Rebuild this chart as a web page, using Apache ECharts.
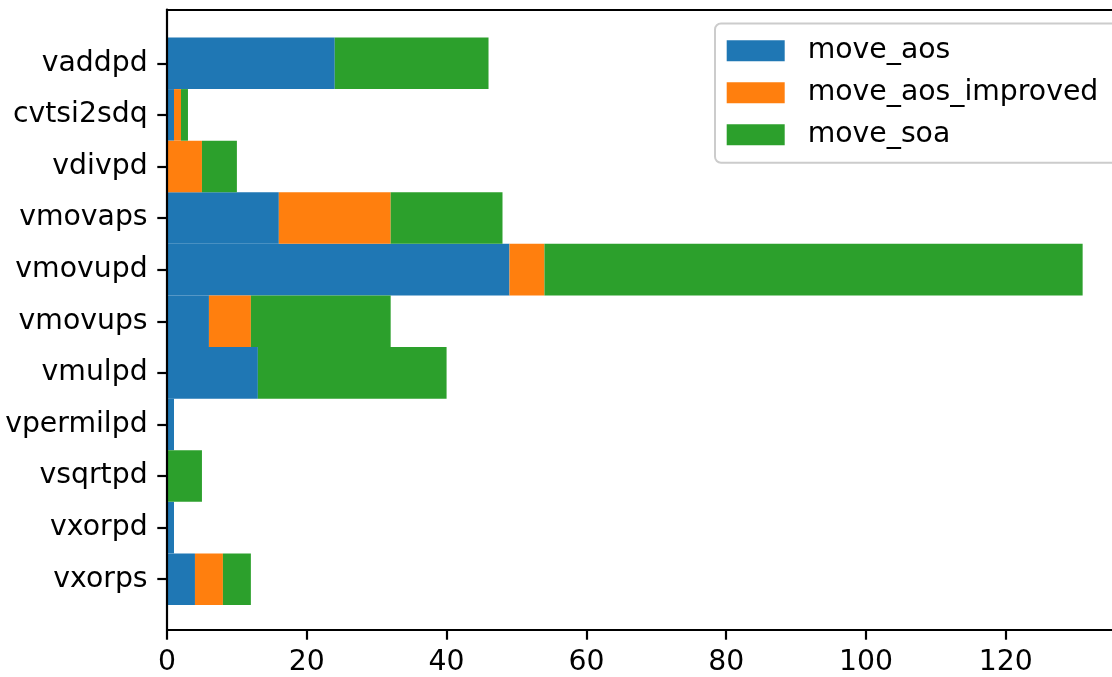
<!DOCTYPE html>
<html>
<head>
<meta charset="utf-8">
<script src="https://cdn.jsdelivr.net/npm/echarts@6/dist/echarts.min.js"></script>
<style>html,body{margin:0;padding:0;background:#fff}#c{width:1112px;height:677px}</style>
</head>
<body>
<div id="c"></div>
<script>
const categories = ['vaddpd','cvtsi2sdq','vdivpd','vmovaps','vmovupd','vmovups','vmulpd','vpermilpd','vsqrtpd','vxorpd','vxorps'];
const moveAos         = [24, 1, 0, 16, 49, 6, 13, 1, 0, 1, 4];
const moveAosImproved = [0, 1, 5, 16, 5, 6, 0, 0, 0, 0, 4];
const moveSoa         = [22, 1, 5, 16, 77, 20, 27, 0, 5, 0, 4];
const seriesNames = ['move_aos', 'move_aos_improved', 'move_soa'];
const xTicks = [0, 20, 40, 60, 80, 100, 120];

const FONT = 'DejaVu Sans';
const FS = 28.3;
const XMAX = 135.2;
const LW = 2.2;
const chart = echarts.init(document.getElementById('c'));
const colors = ['#1f77b4', '#ff7f0e', '#2ca02c'];
const values = [moveAos, moveAosImproved, moveSoa];

chart.setOption({
  animation: false,
  color: colors,
  grid: [
    {left: 167, right: 0, top: 37.5, bottom: 72},
    {left: 167, right: 0, top: 9.5, bottom: 44}
  ],
  legend: {
    data: seriesNames,
    orient: 'vertical',
    left: 715, top: 23.5,
    itemWidth: 58, itemHeight: 21, itemGap: 14,
    icon: 'rect',
    padding: [13.2, 24, 14, 11.7],
    backgroundColor: '#fff',
    borderColor: '#cccccc', borderWidth: 2, borderRadius: 6,
    textStyle: {fontFamily: FONT, fontSize: FS, color: '#000', padding: [0, 0, 0, 18]}
  },
  xAxis: [
    {gridIndex: 0, type: 'value', min: 0, max: XMAX, show: false, splitLine: {show: false}},
    {gridIndex: 1, type: 'value', min: 0, max: XMAX, interval: 20, position: 'bottom', z: 5,
      axisLine: {show: true, lineStyle: {color: '#000', width: LW}},
      axisTick: {show: true, length: 9.7, lineStyle: {color: '#000', width: LW}},
      splitLine: {show: false},
      axisLabel: {showMaxLabel: false, margin: 19, fontFamily: FONT, fontSize: FS, color: '#000',
        formatter: v => xTicks.includes(v) ? String(v) : ''}},
    {gridIndex: 1, type: 'value', min: 0, max: XMAX, position: 'top', z: 5,
      axisLine: {show: true, lineStyle: {color: '#000', width: LW}},
      axisTick: {show: false}, axisLabel: {show: false}, splitLine: {show: false}}
  ],
  yAxis: [
    {gridIndex: 0, type: 'category', data: categories, inverse: true,
      axisLine: {show: false},
      axisTick: {show: true, alignWithLabel: true, length: 9.7, lineStyle: {color: '#000', width: LW}},
      axisLabel: {margin: 19.4, fontFamily: FONT, fontSize: FS, color: '#000'},
      splitLine: {show: false}},
    {gridIndex: 1, type: 'value', min: 0, max: 1, z: 5,
      axisLine: {show: true, lineStyle: {color: '#000', width: LW}},
      axisTick: {show: false}, axisLabel: {show: false}, splitLine: {show: false}}
  ],
  series: seriesNames.map((name, i) => ({
    name, type: 'bar', stack: 'total',
    xAxisIndex: 0, yAxisIndex: 0,
    barCategoryGap: 0,
    itemStyle: {color: colors[i]},
    data: values[i]
  }))
});
</script>
</body>
</html>
